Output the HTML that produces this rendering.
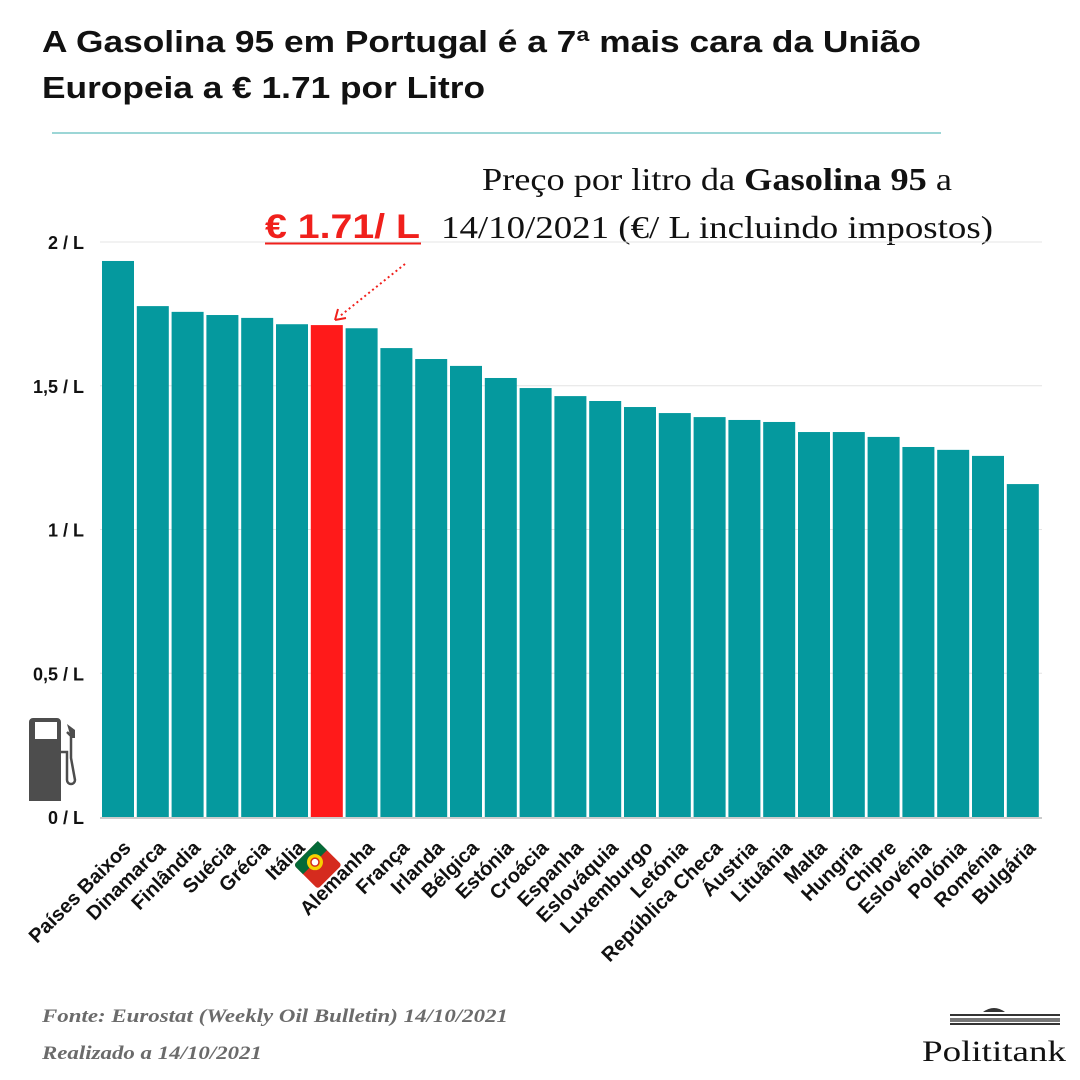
<!DOCTYPE html>
<html><head><meta charset="utf-8">
<style>
body{margin:0;background:#fff;}
svg{display:block;font-family:"Liberation Sans",sans-serif;}
</style></head>
<body>
<svg id="chart" width="1080" height="1080" viewBox="0 0 1080 1080" xmlns="http://www.w3.org/2000/svg">
<rect width="1080" height="1080" fill="#fff"/>
<text x="42" y="52" font-size="31" font-weight="bold" fill="#111" textLength="879" lengthAdjust="spacingAndGlyphs">A Gasolina 95 em Portugal é a 7ª mais cara da União</text>
<text x="42" y="98" font-size="31" font-weight="bold" fill="#111" textLength="443" lengthAdjust="spacingAndGlyphs">Europeia a € 1.71 por Litro</text>
<line x1="52" y1="133" x2="941" y2="133" stroke="#7cc8c8" stroke-width="1.5"/>
<text x="482" y="190" font-family="Liberation Serif,serif" font-size="32" fill="#111" textLength="470" lengthAdjust="spacingAndGlyphs">Preço por litro da <tspan font-weight="bold">Gasolina 95</tspan> a</text>
<text x="265" y="238" font-size="34" font-weight="bold" fill="#f0201c" textLength="155" lengthAdjust="spacingAndGlyphs">€ 1.71/ L</text>
<line x1="265" y1="243" x2="421" y2="243" stroke="#f0201c" stroke-width="3"/>
<text x="441" y="238" font-family="Liberation Serif,serif" font-size="32" fill="#111" textLength="552" lengthAdjust="spacingAndGlyphs">14/10/2021  (€/ L incluindo impostos)</text>
<line x1="405" y1="264" x2="340" y2="316" stroke="#f0201c" stroke-width="2" stroke-dasharray="2,3"/>
<path d="M335 320 L338 309 M335 320 L346 318" stroke="#f0201c" stroke-width="2" fill="none"/>
<g id="grid"></g>
<g id="bars"></g>
<g id="labels"></g>
<g fill="#4d4d4d">
<path d="M33 718 h24 a4 4 0 0 1 4 4 v79 h-32 v-79 a4 4 0 0 1 4 -4z M35 722 v17 h22 v-17z" fill-rule="evenodd"/>
<path d="M61 752 h6 v28 a4 4 0 0 0 8 0 l-4 -22 v-22 l-4 -4" fill="none" stroke="#4d4d4d" stroke-width="2.5"/>
<path d="M67 724 l8 6 v8 h-4z" fill="#4d4d4d"/>
</g>
<text x="42" y="1022" font-family="Liberation Serif,serif" font-style="italic" font-weight="bold" font-size="19" fill="#6b6b6b" textLength="466" lengthAdjust="spacingAndGlyphs">Fonte: Eurostat (Weekly Oil Bulletin) 14/10/2021</text>
<text x="42" y="1059" font-family="Liberation Serif,serif" font-style="italic" font-weight="bold" font-size="19" fill="#6b6b6b" textLength="220" lengthAdjust="spacingAndGlyphs">Realizado a 14/10/2021</text>
<g>
<rect x="950" y="1014" width="110" height="2" fill="#333"/>
<rect x="950" y="1018" width="110" height="4" fill="#777"/>
<rect x="950" y="1023" width="110" height="2" fill="#333"/>
<path d="M983 1012 q11 -8 22 0z" fill="#333"/>
<text x="994" y="1061" text-anchor="middle" font-family="Liberation Serif,serif" font-size="30" fill="#111" textLength="144" lengthAdjust="spacingAndGlyphs">Polititank</text>
</g>
</svg>
<script>
const categories=["Países Baixos","Dinamarca","Finlândia","Suécia","Grécia","Itália","Portugal","Alemanha","França","Irlanda","Bélgica","Estónia","Croácia","Espanha","Eslováquia","Luxemburgo","Letónia","República Checa","Áustria","Lituânia","Malta","Hungria","Chipre","Eslovénia","Polónia","Roménia","Bulgária"];
const prices=[1.934,1.777,1.757,1.746,1.736,1.714,1.711,1.700,1.631,1.593,1.569,1.527,1.492,1.464,1.447,1.426,1.405,1.391,1.381,1.374,1.339,1.339,1.322,1.287,1.277,1.256,1.158];
const highlight="Portugal";
const tickValues=[0,0.5,1,1.5,2];
const tickLabels=["0 / L","0,5 / L","1 / L","1,5 / L","2 / L"];
const NS="http://www.w3.org/2000/svg";
const y0=817,yScale=287.5,x0=102,pitch=34.8,bw=32;
const y=v=>y0-v*yScale;
const x=i=>x0+i*pitch;
function mk(tag,attrs,parent){const e=document.createElementNS(NS,tag);for(const k in attrs)e.setAttribute(k,attrs[k]);parent.appendChild(e);return e;}
const grid=document.getElementById('grid'),bars=document.getElementById('bars'),labels=document.getElementById('labels');
tickValues.forEach((v,i)=>{
  if(v>0){const l=mk('line',{x1:100,x2:1042,y1:y(v),y2:y(v),stroke:'#e4e4e4','stroke-width':1},grid);
  
  }
  const t=mk('text',{x:84,y:y(v)+7,'text-anchor':'end','font-size':18,'font-weight':'bold',fill:'#111'},grid);
  t.textContent=tickLabels[i];
  
  
});
const ax=mk('line',{x1:100,x2:1042,y1:y0+1,y2:y0+1,stroke:'#ccc','stroke-width':2},grid);


categories.forEach((c,i)=>{
  const r=mk('rect',{x:x(i),y:y(prices[i]),width:bw,height:prices[i]*yScale,fill:c===highlight?'#ff1a1a':'#05999e'},bars);
  
  
  const cx=x(i)+bw/2;
  if(c===highlight){
    const g=mk('g',{transform:`translate(${cx-9},${865}) rotate(45)`},labels);
    
    
    mk('rect',{x:-17,y:-17,width:34,height:34,rx:3,fill:'#d52b1e'},g);
    mk('path',{d:'M-17 -17 h13 v34 h-10 a3 3 0 0 1 -3 -3z',fill:'#046a38'},g);
    mk('circle',{cx:-4,cy:0,r:8,fill:'#f6d200'},g);
    mk('circle',{cx:-4,cy:0,r:4,fill:'#fff',stroke:'#d52b1e','stroke-width':1.5},g);
  } else {
    const t=mk('text',{x:0,y:0,'text-anchor':'end','font-size':20,'font-weight':'bold',fill:'#111',transform:`translate(${cx+14},${849}) rotate(-45)`},labels);
    t.textContent=c;
    
    
  }
});
</script>
</body></html>
